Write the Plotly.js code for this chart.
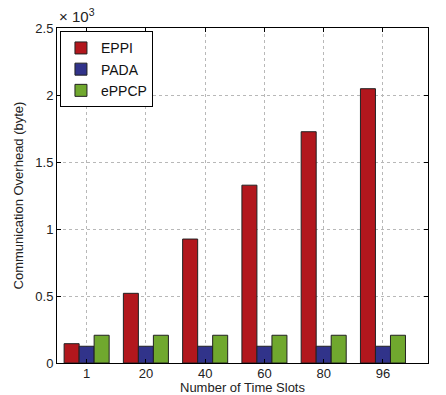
<!DOCTYPE html>
<html>
<head>
<meta charset="utf-8">
<script src="https://cdn.plot.ly/plotly-3.0.1.min.js"></script>
<style>html,body{margin:0;padding:0;background:#fff;}#chart{width:446px;height:395px;}</style>
</head>
<body>
<div id="chart"></div>
<script>
const categories = ['1', '20', '40', '60', '80', '96'];
const eppi  = [144, 520, 925, 1327, 1726, 2047];
const pada  = [125, 125, 125, 125, 125, 125];
const eppcp = [207, 207, 207, 207, 207, 207];
const yTickVals = [0, 500, 1000, 1500, 2000, 2500];
const yTickText = ['0', '0.5', '1', '1.5', '2', '2.5'];

const idx = categories.map((c, i) => i);
const edge = {color: '#222', width: 1};
const traces = [
  {type: 'bar', name: 'EPPI', x: idx, y: eppi, marker: {color: '#B2171D', line: edge}},
  {type: 'bar', name: 'PADA', x: idx, y: pada, marker: {color: '#31338A', line: edge}},
  {type: 'bar', name: 'ePPCP', x: idx, y: eppcp, marker: {color: '#70A82E', line: edge}}
];
const font = {family: 'Liberation Sans, Arial, sans-serif', size: 13, color: '#222'};
const layout = {
  width: 446, height: 395,
  margin: {l: 57, r: 18, t: 28, b: 32},
  paper_bgcolor: '#fff', plot_bgcolor: '#fff',
  font: font,
  barmode: 'group', bargap: 0.24, bargroupgap: 0,
  showlegend: true,
  legend: {x: 0.008, y: 0.99, xanchor: 'left', yanchor: 'top',
           bordercolor: '#000', borderwidth: 1, bgcolor: '#fff',
           font: {family: font.family, size: 14, color: '#111'},
           tracegroupgap: 0, itemwidth: 30},
  xaxis: {
    range: [-0.5, 5.76], tickvals: idx, ticktext: categories,
    showline: true, linecolor: '#000', linewidth: 1, mirror: 'ticks',
    ticks: 'inside', ticklen: 4, tickcolor: '#000',
    showgrid: true, gridcolor: '#b8b8b8', griddash: 'dot', gridwidth: 1,
    zeroline: false, ticklabelstandoff: -2,
    title: {text: 'Number of Time Slots', font: {size: 13}, standoff: 0}
  },
  yaxis: {
    range: [0, 2500], tickvals: yTickVals, ticktext: yTickText,
    showline: true, linecolor: '#000', linewidth: 1, mirror: 'ticks',
    ticks: 'inside', ticklen: 4, tickcolor: '#000',
    showgrid: true, gridcolor: '#b8b8b8', griddash: 'dot', gridwidth: 1,
    zeroline: false,
    title: {text: 'Communication Overhead (byte)', font: {size: 13}, standoff: 8}
  },
  annotations: [{
    xref: 'paper', yref: 'paper', x: 0, y: 1, xanchor: 'left', yanchor: 'bottom',
    yshift: 1, xshift: 0,
    text: '× 10<sup>3</sup>', showarrow: false, font: {size: 15, color: '#222'}
  }]
};
Plotly.newPlot('chart', traces, layout, {displayModeBar: false, staticPlot: true});
</script>
</body>
</html>
